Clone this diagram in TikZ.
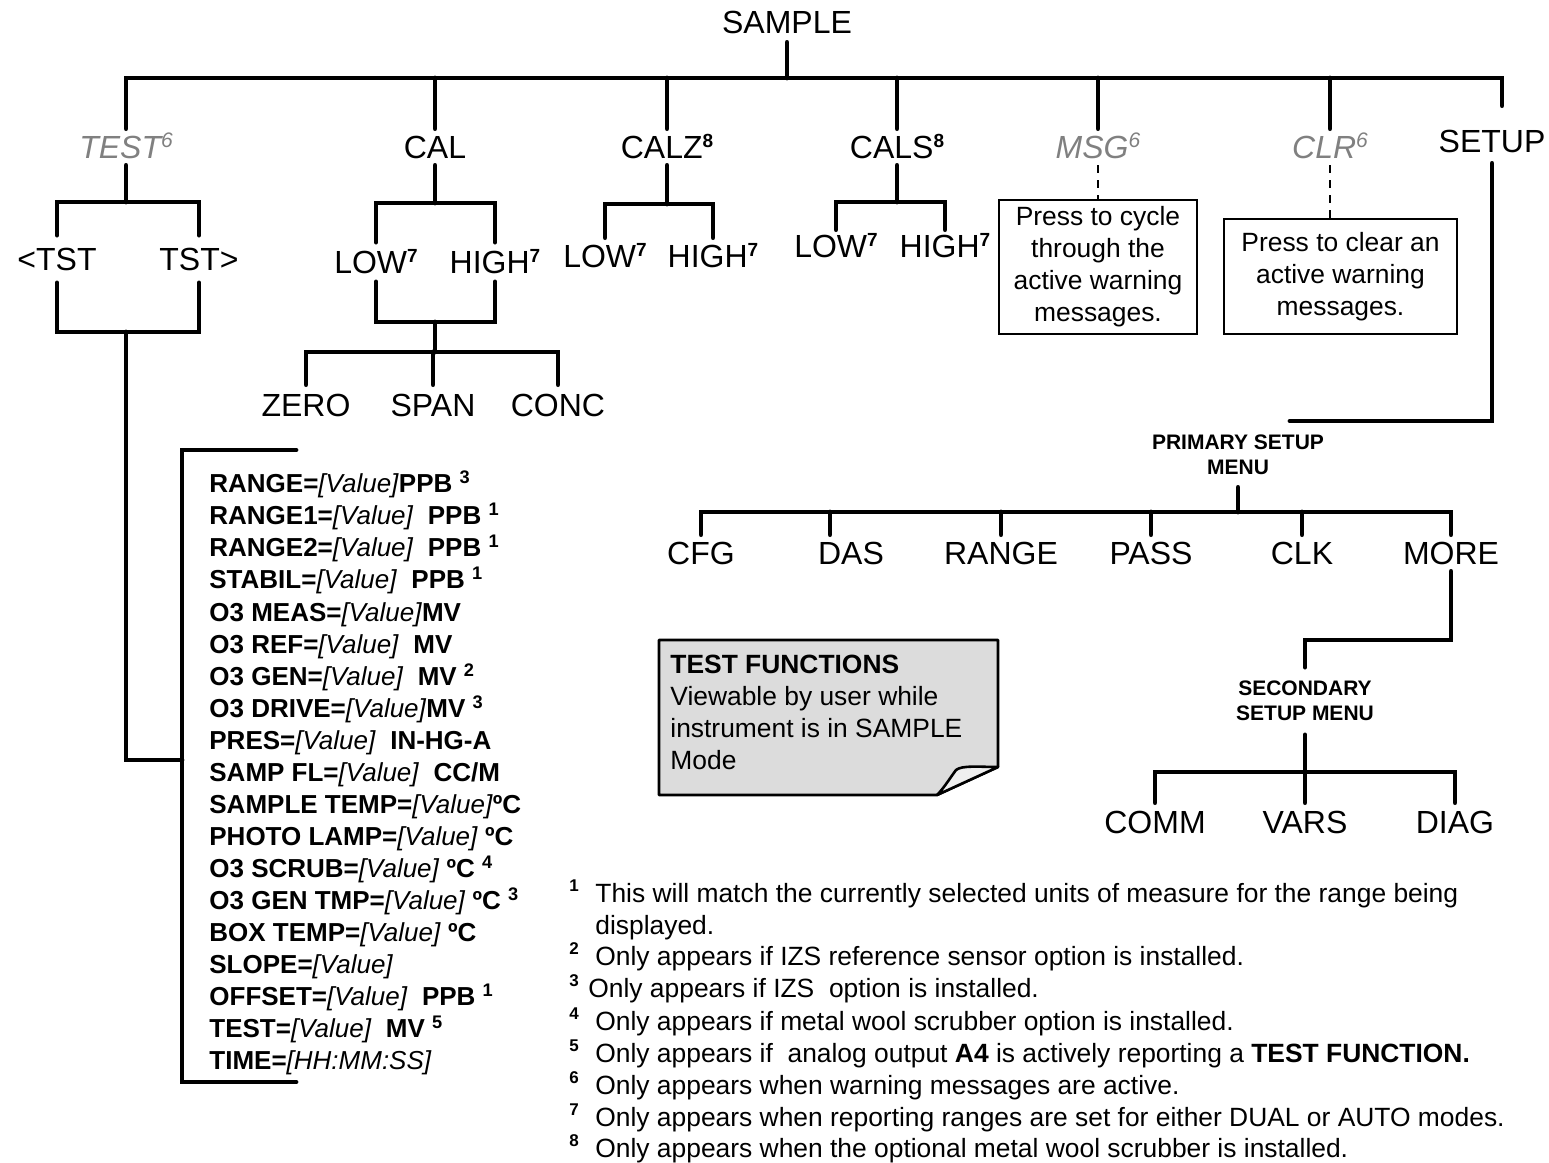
\documentclass[tikz,border=0pt]{standalone}
\usepackage{fontspec}
\setmainfont{Liberation Sans}
\definecolor{gtxt}{HTML}{808080}
\definecolor{notefill}{HTML}{DCDCDC}
\definecolor{flapfill}{HTML}{EFEFEF}
\newcommand\VV{\textmd{\textit{[Value]}}}
\newcommand\SPb[1]{\textsuperscript{\bfseries #1}}
\newcommand\SPs[1]{\raisebox{5.5pt}{\fontsize{9.5}{10}\selectfont\bfseries #1}}
\newcommand\SPg[1]{\raisebox{5.5pt}{\fontsize{10.5}{10}\selectfont #1}}
\begin{document}
\begin{tikzpicture}[x=0.5pt,y=-0.5pt,
  tree/.style={line width=2.4pt,line cap=round},
  lbl/.style={font=\fontsize{16}{19}\selectfont,inner sep=0pt,text height=11.5pt,text depth=0pt},
  glbl/.style={lbl,text=gtxt,font=\fontsize{16}{19}\selectfont\itshape},
  mh/.style={minimum height=#1},
  menu/.style={inner sep=0pt,align=center,font=\fontsize{10.5}{12.5}\selectfont\bfseries},
  msgbox/.style={draw,line width=0.6pt,inner sep=0pt,align=center,font=\fontsize{13.2}{16}\selectfont},
  dsh/.style={line width=1pt,dash pattern=on 4pt off 3.5pt},
  item/.style={anchor=base west,inner sep=0pt,font=\fontsize{13}{16}\selectfont\bfseries},
  fnote/.style={anchor=base west,inner sep=0pt,font=\fontsize{13.2}{16}\selectfont},
  fmark/.style={anchor=base west,inner sep=0pt,font=\fontsize{8.5}{10}\selectfont\bfseries}]
\useasboundingbox (0,0) rectangle (1549,1163);

% ---------- top level
\node[lbl,mh=20pt] (sample) at (787,22) {SAMPLE};
\coordinate (b0) at (787,78);
\node[glbl,mh=18pt] (test) at (126,147) {TEST\SPg{6}};
\node[lbl,mh=18pt] (cal) at (435,147) {CAL};
\node[lbl,mh=18pt] (calz) at (667,147) {CALZ\SPs{8}};
\node[lbl,mh=18pt] (cals) at (897,147) {CALS\SPs{8}};
\node[glbl,mh=18pt] (msg) at (1098,147) {MSG\SPg{6}};
\node[glbl,mh=18pt] (clr) at (1330,147) {CLR\SPg{6}};
\node[lbl,mh=22pt] (setup) at (1492,141) {SETUP};
\coordinate (st) at ([xshift=5pt,yshift=6.5pt]setup.north);
\draw[tree] (sample.south) -- (b0);
\draw[tree] (test.north) -- (test.north |- b0) -- (st |- b0) -- (st);
\foreach \n in {cal,calz,cals,msg,clr} \draw[tree] (\n.north) -- (\n.north |- b0);

% ---------- TEST subtree
\node[lbl,mh=23.5pt] (tstl) at (57,259) {<TST};
\node[lbl,mh=23.5pt] (tstr) at (199,259) {TST>};
\coordinate (b1) at (126,202);
\coordinate (b2) at (126,332);
\coordinate (b3) at (126,760);
\coordinate (bt) at (296,450);
\coordinate (bb) at (296,1082);
\coordinate (bx) at (182,450);
\draw[tree] (test.south) -- (b1);
\draw[tree] (tstl.north) -- (tstl.north |- b1) -- (tstr.north |- b1) -- (tstr.north);
\draw[tree] (tstl.south) -- (tstl.south |- b2) -- (tstr.south |- b2) -- (tstr.south);
\draw[tree] (b2) -- (b3) -- (b3 -| bx);
\draw[tree] (bt) -- (bx) -- (bx |- bb) -- (bb);

\node[item] (t1) at (209,492) {RANGE=\VV{}PPB \SPb{3}};
\node[item] (t2) at (209,524) {RANGE1=\VV{}\ \ PPB \SPb{1}};
\node[item] (t3) at (209,556) {RANGE2=\VV{}\ \ PPB \SPb{1}};
\node[item] (t4) at (209,588) {STABIL=\VV{}\ \ PPB \SPb{1}};
\node[item] (t5) at (209,621) {O3 MEAS=\VV{}MV};
\node[item] (t6) at (209,653) {O3 REF=\VV{}\ \ MV};
\node[item] (t7) at (209,685) {O3 GEN=\VV{}\ \ MV \SPb{2}};
\node[item] (t8) at (209,717) {O3 DRIVE=\VV{}MV \SPb{3}};
\node[item] (t9) at (209,749) {PRES=\VV{}\ \ IN-HG-A};
\node[item] (t10) at (209,781) {SAMP FL=\VV{}\ \ CC/M};
\node[item] (t11) at (209,813) {SAMPLE TEMP=\VV{}ºC};
\node[item] (t12) at (209,845) {PHOTO LAMP=\VV{} ºC};
\node[item] (t13) at (209,877) {O3 SCRUB=\VV{} ºC \SPb{4}};
\node[item] (t14) at (209,909) {O3 GEN TMP=\VV{} ºC \SPb{3}};
\node[item] (t15) at (209,941) {BOX TEMP=\VV{} ºC};
\node[item] (t16) at (209,973) {SLOPE=\VV};
\node[item] (t17) at (209,1005) {OFFSET=\VV{}\ \ PPB \SPb{1}};
\node[item] (t18) at (209,1037) {TEST=\VV{}\ \ MV \SPb{5}};
\node[item] (t19) at (209,1069) {TIME=\textmd{\textit{[HH:MM:SS]}}};

% ---------- CAL subtree
\node[lbl,mh=19.5pt] (low1) at (376,262) {LOW\SPs{7}};
\node[lbl,mh=19.5pt] (high1) at (495,262) {HIGH\SPs{7}};
\coordinate (b4) at (435,203);
\coordinate (b5) at (435,322);
\coordinate (b6) at (435,352);
\draw[tree] (cal.south) -- (b4);
\draw[tree] (low1.north) -- (low1.north |- b4) -- (high1.north |- b4) -- (high1.north);
\draw[tree] (low1.south) -- (low1.south |- b5) -- (high1.south |- b5) -- (high1.south);
\draw[tree] (b5) -- (b6);
\node[lbl,mh=20pt] (zero) at (306,405) {ZERO};
\node[lbl,mh=20pt] (span) at (433,405) {SPAN};
\node[lbl,mh=20pt] (conc) at (558,405) {CONC};
\draw[tree] (zero.north) -- (zero.north |- b6) -- (conc.north |- b6) -- (conc.north);
\draw[tree] (span.north) -- (span.north |- b6);

% ---------- CALZ subtree
\node[lbl,mh=18pt] (low2) at (605,256) {LOW\SPs{7}};
\node[lbl,mh=18pt] (high2) at (713,256) {HIGH\SPs{7}};
\coordinate (b7) at (667,204);
\draw[tree] (calz.south) -- (b7);
\draw[tree] (low2.north) -- (low2.north |- b7) -- (high2.north |- b7) -- (high2.north);

% ---------- CALS subtree
\node[lbl,mh=16pt] (low3) at (836,246) {LOW\SPs{7}};
\node[lbl,mh=16pt] (high3) at (945,246) {HIGH\SPs{7}};
\coordinate (b8) at (897,202);
\draw[tree] (cals.south) -- (b8);
\draw[tree] (low3.north) -- (low3.north |- b8) -- (high3.north |- b8) -- (high3.north);

% ---------- MSG / CLR
\node[msgbox,minimum width=99pt,minimum height=67pt] (box1) at (1098,267)
  {Press to cycle\\through the\\active warning\\messages.};
\node[msgbox,minimum width=116.5pt,minimum height=57.5pt] (box2) at (1340.5,276.5)
  {Press to clear an\\active warning\\messages.};
\draw[dsh] (msg.south) -- (msg.south |- box1.north);
\draw[dsh] (clr.south) -- (clr.south |- box2.north);

% ---------- SETUP subtree
\coordinate (c1) at (1492,421);
\coordinate (c2) at (1290,421);
\draw[tree] (setup.south) -- (c1) -- (c2);
\node[menu,mh=32pt] (prim) at (1238,455) {PRIMARY SETUP\\MENU};
\coordinate (b9) at (1238,512);
\draw[tree] (prim.south) -- (b9);
\node[lbl,mh=18pt] (cfg) at (701,553) {CFG};
\node[lbl,mh=18pt] (das) at (851,553) {DAS};
\node[lbl,mh=18pt] (range) at (1001,553) {RANGE};
\node[lbl,mh=18pt] (pass) at (1151,553) {PASS};
\node[lbl,mh=18pt] (clk) at (1302,553) {CLK};
\node[lbl,mh=18pt] (more) at (1451,553) {MORE};
\coordinate (dn) at ([xshift=-10.5pt]das.north);
\draw[tree] (cfg.north) -- (cfg.north |- b9) -- (more.north |- b9) -- (more.north);
\draw[tree] (dn) -- (dn |- b9);
\foreach \n in {range,pass,clk} \draw[tree] (\n.north) -- (\n.north |- b9);

\node[menu,mh=33.5pt] (sec) at (1305,701) {SECONDARY\\SETUP MENU};
\coordinate (b10) at (1451,640);
\draw[tree] (more.south) -- (b10) -- (b10 -| sec.north) -- (sec.north);
\node[lbl,mh=19pt] (comm) at (1155,822) {COMM};
\node[lbl,mh=19pt] (vars) at (1305,822) {VARS};
\node[lbl,mh=19pt] (diag) at (1455,822) {DIAG};
\coordinate (b11) at (1305,772);
\draw[tree] (sec.south) -- (vars.north);
\draw[tree] (comm.north) -- (comm.north |- b11) -- (diag.north |- b11) -- (diag.north);

% ---------- note
\filldraw[fill=notefill,line width=1.3pt,line join=round] (659,640) -- (998,640) -- (998,767) -- (937,795) -- (659,795) -- cycle;
\filldraw[fill=flapfill,line width=1.3pt,line join=round] (998,767) .. controls (980,767) and (962,765) .. (956,770) .. controls (950,778) and (944,788) .. (937,795) -- cycle;
\node[anchor=north west,inner sep=0pt,align=left,font=\fontsize{13.2}{16}\selectfont] (note) at (670,655)
  {\textbf{TEST FUNCTIONS}\\Viewable by user while\\instrument is in SAMPLE\\Mode};

% ---------- footnotes
\node[fmark] (m1) at (569,891) {1};
\node[fnote] (f1) at (595,902) {This will match the currently selected units of measure for the range being};
\node[fnote] (f1b) at (595,934) {displayed.};
\node[fmark] (m2) at (569,954) {2};
\node[fnote] (f2) at (595,965) {Only appears if IZS reference sensor option is installed.};
\node[fmark] (m3) at (569,986) {3};
\node[fnote] (f3) at (588,997) {Only appears if IZS\ \ option is installed.};
\node[fmark] (m4) at (569,1019) {4};
\node[fnote] (f4) at (595,1030) {Only appears if metal wool scrubber option is installed.};
\node[fmark] (m5) at (569,1051) {5};
\node[fnote] (f5) at (595,1062) {Only appears if\ \ analog output \textbf{A4} is actively reporting a \textbf{TEST FUNCTION.}};
\node[fmark] (m6) at (569,1083) {6};
\node[fnote] (f6) at (595,1094) {Only appears when warning messages are active.};
\node[fmark] (m7) at (569,1115) {7};
\node[fnote] (f7) at (595,1126) {Only appears when reporting ranges are set for either DUAL or AUTO modes.};
\node[fmark] (m8) at (569,1146) {8};
\node[fnote] (f8) at (595,1157) {Only appears when the optional metal wool scrubber is installed.};
\end{tikzpicture}
\end{document}
